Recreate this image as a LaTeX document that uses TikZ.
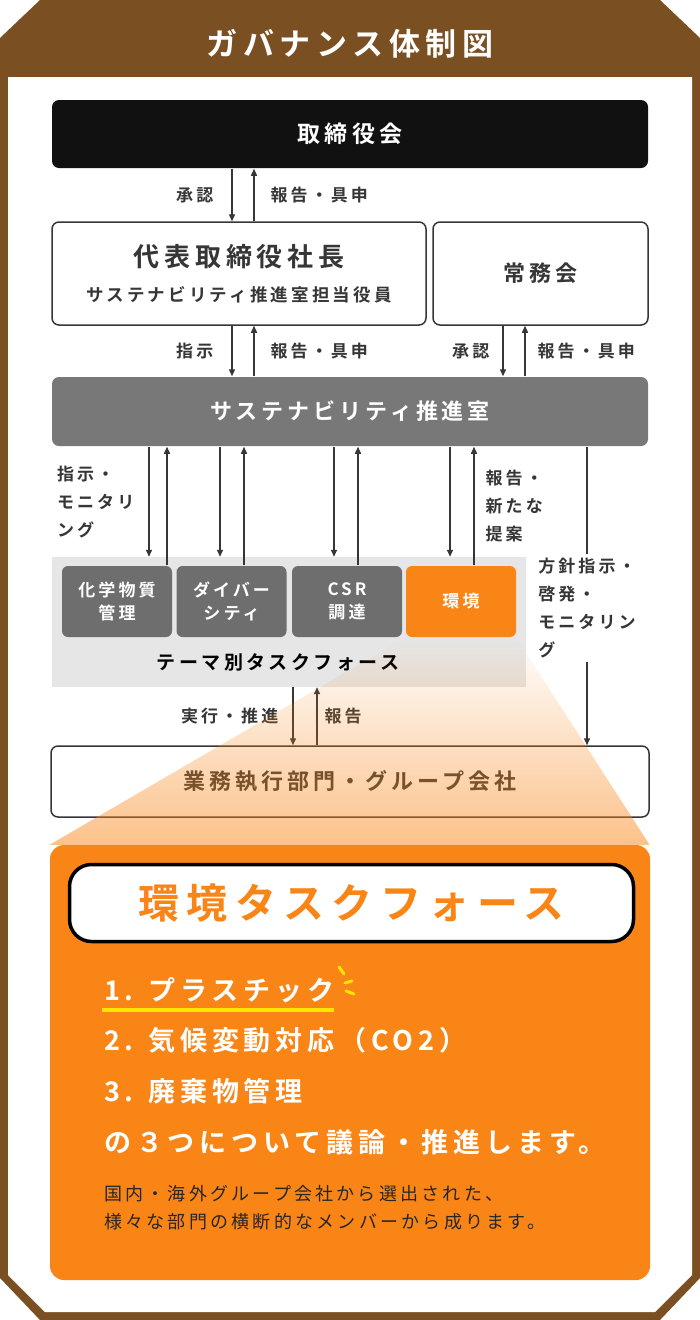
\documentclass[tikz,border=0pt]{standalone}
\usepackage{fontspec}
\setmainfont{Noto Sans CJK JP}[BoldFont={Noto Sans CJK JP Bold},LetterSpace=18]
\usetikzlibrary{arrows.meta,fadings}

\definecolor{frame}{HTML}{7A5023}
\definecolor{ink}{HTML}{363636}
\definecolor{boardblack}{HTML}{111111}
\definecolor{boxgray}{HTML}{787878}
\definecolor{tfgray}{HTML}{6E6E6E}
\definecolor{bandgray}{HTML}{E6E6E6}
\definecolor{tforange}{HTML}{F98517}
\definecolor{hiyellow}{HTML}{FFE600}

\newcommand\fsz[2]{\fontsize{#1}{#2}\selectfont}

\tikzset{
  chartbox/.style={draw=ink, line width=1.5pt, rounded corners=7pt, fill=white, text=ink,
    inner sep=0pt, align=center, font=\bfseries\fsz{22}{28}},
  darkbox/.style={chartbox, draw=none, text=white},
  tfbox/.style={darkbox, fill=tfgray, minimum width=110pt, minimum height=71pt,
    rounded corners=6pt, font=\bfseries\fsz{17}{23}},
  linkarrow/.style={draw=ink, line width=1.4pt, -{Triangle[length=7pt,width=6pt]}},
  flowlabel/.style={text=ink, font=\bfseries\fsz{17}{28}, inner sep=0pt},
  itemtext/.style={anchor=west, inner sep=0pt, text=white, font=\bfseries\fsz{27}{30}},
}

\begin{document}
\begin{tikzpicture}[x=1pt,y=-1pt]
    % frame and heading
    \fill[frame] (40,0) -- (660,0) -- (700,38) -- (700,1278) -- (660,1320)
        -- (40,1320) -- (0,1278) -- (0,38) -- cycle;
    \fill[white] (8,77) -- (692,77) -- (692,1275) -- (655,1312) -- (45,1312)
        -- (8,1275) -- cycle;
    \node[text=white, font=\bfseries\fsz{31}{36}] (heading) at (350,44) {ガバナンス体制図};

    % organisation
    \node[darkbox, fill=boardblack, minimum width=596pt, minimum height=68pt, font=\bfseries\fsz{23}{28}] (board) at (350,134) {取締役会};
    \node[chartbox, minimum width=374pt, minimum height=103pt, font=\bfseries\fsz{26}{35}] (pres) at (239,273.5)
        {代表取締役社長\\\fsz{17.5}{22}サステナビリティ推進室担当役員};
    \node[chartbox, minimum width=215pt, minimum height=103pt] (exec) at (540.5,273.5) {常務会};
    \node[darkbox, fill=boxgray, minimum width=596pt, minimum height=69pt] (sust) at (350,411.5) {サステナビリティ推進室};

    \node[fill=bandgray, minimum width=474pt, minimum height=130pt, inner sep=0pt] (band) at (289,622) {};
    \node[text=black, font=\bfseries\fsz{19}{24}] (bandlabel) at (278,662) {テーマ別タスクフォース};
    \node[tfbox] (chem) at (117,601.5) {化学物質\\管理};
    \node[tfbox] (div) at (231.5,601.5) {ダイバー\\シティ};
    \node[tfbox] (csr) at (347,601.5) {CSR\\調達};
    \node[tfbox, fill=tforange] (env) at (461,601.5) {環境};

    \node[chartbox, minimum width=598pt, minimum height=71pt] (ops) at (350,781.5) {業務執行部門・グループ会社};

    % arrow columns
    \foreach \n/\x in {c1/232, c2/254, c3/503, c4/525, c5/149, c6/167, c7/220, c8/244,
                       c9/334, c10/358, c11/450, c12/474, c13/587, c14/293, c15/317}
        \coordinate (\n) at (\x,0);

    \draw[linkarrow] (board.south -| c1) -- node[flowlabel, midway, left=18pt] {承認} (pres.north -| c1);
    \draw[linkarrow] (pres.north -| c2) -- node[flowlabel, midway, right=16pt] {報告・具申} (board.south -| c2);

    \draw[linkarrow] (pres.south -| c1) -- node[flowlabel, midway, left=18pt] {指示} (sust.north -| c1);
    \draw[linkarrow] (sust.north -| c2) -- node[flowlabel, midway, right=16pt] {報告・具申} (pres.south -| c2);
    \draw[linkarrow] (exec.south -| c3) -- node[flowlabel, midway, left=13pt] {承認} (sust.north -| c3);
    \draw[linkarrow] (sust.north -| c4) -- node[flowlabel, midway, right=12pt] {報告・具申} (exec.south -| c4);

    \draw[linkarrow] (sust.south -| c5) -- node[flowlabel, midway, left=14pt, align=left]
        {指示・\\モニタリ\\ング} (band.north -| c5);
    \draw[linkarrow] (chem.north -| c6) -- (sust.south -| c6);
    \draw[linkarrow] (sust.south -| c7) -- (band.north -| c7);
    \draw[linkarrow] (div.north -| c8) -- (sust.south -| c8);
    \draw[linkarrow] (sust.south -| c9) -- (band.north -| c9);
    \draw[linkarrow] (csr.north -| c10) -- (sust.south -| c10);
    \draw[linkarrow] (sust.south -| c11) -- (band.north -| c11);
    \draw[linkarrow] (env.north -| c12) -- node[flowlabel, midway, right=11pt, align=left]
        {報告・\\新たな\\提案} (sust.south -| c12);

    \draw[linkarrow] (sust.south -| c13) -- node[flowlabel, pos=0.54, fill=white, inner sep=4pt, align=left]
        {方針指示・\\啓発・\\モニタリン\\グ} (ops.north -| c13);

    \draw[linkarrow] (band.south -| c14) -- node[flowlabel, midway, left=14pt] {実行・推進} (ops.north -| c14);
    \draw[linkarrow] (ops.north -| c15) -- node[flowlabel, midway, right=7pt] {報告} (band.south -| c15);

    % environment task force
    \node[fill=tforange, rounded corners=14pt, minimum width=600pt, minimum height=435pt, inner sep=0pt] (envpanel) at (350,1062.5) {};
    \fill[tforange, fill opacity=0.5, path fading=north]
        (env.south west) -- (env.south east) -- (envpanel.north east) -- (envpanel.north west) -- cycle;
    \node[draw=black, line width=3.5pt, fill=white, rounded corners=22pt, minimum width=564pt, minimum height=77pt,
        text=tforange, font=\bfseries\fsz{41}{44}] (envtitle) at (351.5,903) {環境タスクフォース};

    \node[itemtext] (item1) at (104,990) {1. プラスチック};
    \node[itemtext] (item2) at (104,1040) {2. 気候変動対応（CO2）};
    \node[itemtext] (item3) at (104,1091) {3. 廃棄物管理};
    \node[itemtext] (item4) at (104,1142) {の３つについて議論・推進します。};
    \draw[hiyellow, line width=4pt] ([yshift=-7pt,xshift=-2pt]item1.south west) -- ([yshift=-7pt]item1.south east);
    \draw[hiyellow, line width=3pt, line cap=round] (339,967) -- (344,974)
        (345,983) -- (352,981) (346,991) -- (354,994);

    \node[anchor=west, inner sep=0pt, text=black!85, font=\fsz{18}{28}, align=left] (note) at (104,1208)
        {国内・海外グループ会社から選出された、\\様々な部門の横断的なメンバーから成ります。};
\end{tikzpicture}
\end{document}
